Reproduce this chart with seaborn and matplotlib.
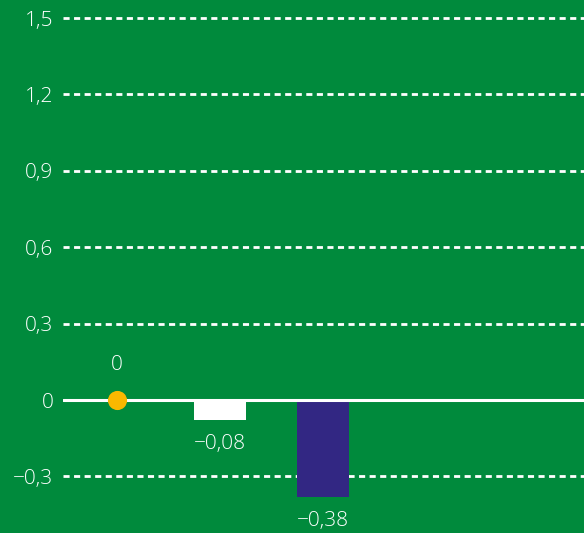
import pandas as pd
import matplotlib
matplotlib.use('Agg')
import matplotlib.pyplot as plt
import seaborn as sns

# Chart data
categories = ['Punkt', 'Balken 1', 'Balken 2']
values = [0.0, -0.08, -0.38]
kinds = ['dot', 'bar', 'bar']
colors = ['#f9b800', '#ffffff', '#322783']
yticks = [-0.3, 0, 0.3, 0.6, 0.9, 1.2, 1.5]

green = '#008a3c'

df = pd.DataFrame({'category': categories, 'value': values, 'kind': kinds, 'color': colors})


def fmt(v):
    s = f'{abs(v):.2f}'.rstrip('0').rstrip('.') if v != 0 else '0'
    s = s.replace('.', ',')
    return ('\u2212' + s) if v < 0 else s


sns.set_style('white')
plt.rcParams['font.family'] = ['Open Sans', 'DejaVu Sans']
FS = 15

fig = plt.figure(figsize=(5.84, 5.33), dpi=100, facecolor=green)
ax = fig.add_axes([63 / 584, 0, 1 - 63 / 584, 1])
ax.set_facecolor(green)

bars = df[df['kind'] == 'bar']
sns.barplot(data=bars, x='category', y='value', hue='category', order=categories,
            hue_order=list(bars['category']), palette=list(bars['color']),
            width=0.5, legend=False, ax=ax, saturation=1, zorder=3, linewidth=0)

# gridlines
for t in yticks:
    if t == 0:
        ax.axhline(0, color='white', lw=2.2, zorder=4)
    else:
        ax.axhline(t, color='white', lw=2, ls=(0, (2.2, 1.6)), zorder=2)

# dot
dots = df[df['kind'] == 'dot']
for _, r in dots.iterrows():
    xi = categories.index(r['category'])
    ax.scatter([xi], [r['value']], s=190, color=r['color'], zorder=5, linewidths=0)
    ax.annotate(fmt(r['value']), (xi, r['value']), xytext=(0, 35), textcoords='offset pixels',
                ha='center', va='center', color='white', fontsize=FS, fontweight='light')

for _, r in bars.iterrows():
    xi = categories.index(r['category'])
    ax.annotate(fmt(r['value']), (xi, r['value']), xytext=(0, -24), textcoords='offset pixels',
                ha='center', va='center', color='white', fontsize=FS, fontweight='light')

ax.set_xlim(-0.524, 4.53)
ax.set_ylim(-0.522, 1.571)
ax.set_yticks(yticks)
ax.set_yticklabels([fmt(t) for t in yticks], color='white', fontsize=FS, fontweight='light')
ax.tick_params(axis='y', length=0, pad=7)
ax.set_xticks([])
ax.set_xlabel('')
ax.set_ylabel('')
for s in ax.spines.values():
    s.set_visible(False)

fig.savefig('out.png', dpi=100, facecolor=green)
